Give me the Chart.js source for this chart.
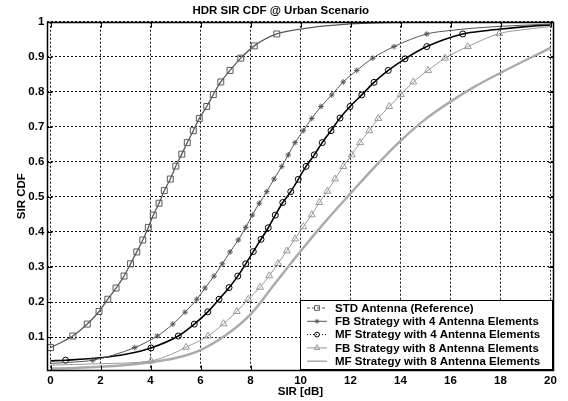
<!DOCTYPE html>
<html>
<head>
<meta charset="utf-8">
<script src="https://cdn.jsdelivr.net/npm/chart.js@4.4.1/dist/chart.umd.min.js"></script>
<style>
  html, body { margin: 0; padding: 0; background: #fff; }
</style>
</head>
<body>
<canvas id="sir-cdf" width="568" height="401"></canvas>
<script>
// SIR CDF curves, x in dB, y is the CDF value.
// "mark" points carry a marker, "line" points only shape the curve.
const stdMarkX = [0, 0.89, 1.47, 1.94, 2.29, 2.62, 2.94, 3.2, 3.45, 3.69, 3.91, 4.11, 4.34, 4.55, 4.79, 5.01, 5.25, 5.47, 5.71, 5.95, 6.25, 6.51, 6.81, 7.18, 7.61, 8.15, 9.05];
const stdMarkY = [0.07, 0.103, 0.137, 0.173, 0.208, 0.24, 0.274, 0.309, 0.343, 0.377, 0.413, 0.448, 0.482, 0.518, 0.551, 0.588, 0.622, 0.655, 0.689, 0.724, 0.758, 0.792, 0.828, 0.861, 0.896, 0.931, 0.965];
const stdLineX = [10, 11, 12, 13, 15, 20];
const stdLineY = [0.979, 0.988, 0.994, 0.997, 0.999, 1.0];

const fb4MarkX = [1.69, 3.37, 4.27, 4.89, 5.38, 5.85, 6.18, 6.54, 6.87, 7.18, 7.51, 7.81, 8.07, 8.35, 8.65, 8.94, 9.25, 9.51, 9.78, 10.11, 10.45, 10.82, 11.25, 11.71, 12.25, 12.89, 13.74, 15.05];
const fb4MarkY = [0.034, 0.07, 0.103, 0.137, 0.171, 0.208, 0.24, 0.274, 0.309, 0.343, 0.377, 0.413, 0.448, 0.482, 0.515, 0.551, 0.587, 0.62, 0.655, 0.689, 0.724, 0.758, 0.791, 0.828, 0.861, 0.896, 0.929, 0.965];
const fb4LineX = [0, 1, 16, 17, 18, 20];
const fb4LineY = [0.025, 0.029, 0.975, 0.982, 0.987, 0.993];

const mf4MarkX = [0.6, 4.02, 5.11, 5.75, 6.29, 6.74, 7.14, 7.49, 7.81, 8.11, 8.42, 8.71, 8.99, 9.29, 9.61, 9.91, 10.22, 10.55, 10.87, 11.22, 11.58, 11.98, 12.45, 12.94, 13.51, 14.18, 15.05, 16.49];
const mf4MarkY = [0.034, 0.069, 0.103, 0.137, 0.172, 0.208, 0.241, 0.274, 0.309, 0.344, 0.379, 0.412, 0.448, 0.484, 0.515, 0.55, 0.587, 0.62, 0.655, 0.689, 0.725, 0.758, 0.791, 0.827, 0.861, 0.894, 0.929, 0.965];
const mf4LineX = [0, 2, 3, 17.5, 18, 19, 20];
const mf4LineY = [0.032, 0.041, 0.051, 0.975, 0.979, 0.986, 0.991];

const fb8MarkX = [4.02, 5.42, 6.3, 6.92, 7.45, 7.91, 8.38, 8.75, 9.1, 9.45, 9.78, 10.11, 10.45, 10.75, 11.07, 11.38, 11.71, 12.05, 12.38, 12.75, 13.11, 13.55, 14.01, 14.51, 15.1, 15.78, 16.69, 17.95];
const fb8MarkY = [0.032, 0.071, 0.103, 0.138, 0.173, 0.208, 0.242, 0.275, 0.31, 0.346, 0.38, 0.415, 0.449, 0.484, 0.516, 0.551, 0.587, 0.62, 0.655, 0.689, 0.724, 0.758, 0.792, 0.828, 0.861, 0.896, 0.929, 0.966];
const fb8LineX = [0, 2, 4.8, 19, 20];
const fb8LineY = [0.02, 0.024, 0.05, 0.978, 0.986];

const mf8LineX = [0, 1, 2, 3, 4, 5, 6, 7, 8, 9, 10, 11, 12, 13, 14, 15, 16, 17, 18, 19, 20];
const mf8LineY = [0.01, 0.012, 0.015, 0.02, 0.028, 0.04, 0.063, 0.105, 0.165, 0.255, 0.345, 0.43, 0.51, 0.588, 0.66, 0.722, 0.772, 0.816, 0.854, 0.89, 0.925];

const seriesNames = [
  "STD Antenna (Reference)",
  "FB Strategy with 4 Antenna Elements",
  "MF Strategy with 4 Antenna Elements",
  "FB Strategy with 8 Antenna Elements",
  "MF Strategy with 8 Antenna Elements",
];

const xTicks = [0, 2, 4, 6, 8, 10, 12, 14, 16, 18, 20];
const yTicks = [0.1, 0.2, 0.3, 0.4, 0.5, 0.6, 0.7, 0.8, 0.9, 1];
const yTickLabels = ["0.1", "0.2", "0.3", "0.4", "0.5", "0.6", "0.7", "0.8", "0.9", "1"];

const FONT = "'Liberation Sans', Arial, sans-serif";

// merge marked + plain points, sorted by x; marked ones get a visible marker
function buildSeries(markX, markY, lineX, lineY, radius) {
  const pts = [];
  markX.forEach((x, i) => pts.push({ x: x, y: markY[i], r: radius }));
  lineX.forEach((x, i) => pts.push({ x: x, y: lineY[i], r: 0 }));
  pts.sort((a, b) => a.x - b.x);
  return {
    data: pts.map((p) => ({ x: p.x, y: p.y })),
    radius: pts.map((p) => p.r),
  };
}

const styles = [
  { color: "#5a5a5a", width: 1.3, pointStyle: "rect", radius: 4.2, dash: [3, 2] },
  { color: "#555555", width: 1, pointStyle: "star", radius: 2.8, dash: [] },
  { color: "#000000", width: 1.6, pointStyle: "circle", radius: 3, dash: [1, 2] },
  { color: "#9a9a9a", width: 1, pointStyle: "triangle", radius: 4, dash: [] },
  { color: "#ababab", width: 2.5, pointStyle: false, radius: 0, dash: [] },
];

const built = [
  buildSeries(stdMarkX, stdMarkY, stdLineX, stdLineY, styles[0].radius),
  buildSeries(fb4MarkX, fb4MarkY, fb4LineX, fb4LineY, styles[1].radius),
  buildSeries(mf4MarkX, mf4MarkY, mf4LineX, mf4LineY, styles[2].radius),
  buildSeries(fb8MarkX, fb8MarkY, fb8LineX, fb8LineY, styles[3].radius),
  buildSeries([], [], mf8LineX, mf8LineY, 0),
];

const datasets = built.map((s, i) => ({
  label: seriesNames[i],
  data: s.data,
  borderColor: styles[i].color,
  borderWidth: styles[i].width,
  pointStyle: styles[i].pointStyle || "circle",
  pointRadius: s.radius,
  pointBorderColor: styles[i].color,
  pointBorderWidth: 1,
  pointBackgroundColor: "rgba(0,0,0,0)",
  cubicInterpolationMode: "monotone",
  fill: false,
}));

// axes box with inward tick marks
const axesBox = {
  id: "axesBox",
  afterDatasetsDraw(chart) {
    const { ctx, chartArea: a, scales } = chart;
    const l = Math.round(a.left) + 0.5;
    const r = Math.round(a.right) - 0.5;
    const t = Math.round(a.top) + 0.5;
    const b = Math.round(a.bottom) - 0.5;
    ctx.save();
    ctx.strokeStyle = "#000";
    ctx.lineWidth = 1.5;
    ctx.strokeRect(l, t, r - l, b - t);
    ctx.lineWidth = 1;
    ctx.beginPath();
    xTicks.forEach((v) => {
      const px = Math.round(scales.x.getPixelForValue(v)) + 0.5;
      ctx.moveTo(px, b); ctx.lineTo(px, b - 5);
      ctx.moveTo(px, t); ctx.lineTo(px, t + 5);
    });
    yTicks.forEach((v) => {
      const py = Math.round(scales.y.getPixelForValue(v)) + 0.5;
      ctx.moveTo(l, py); ctx.lineTo(l + 5, py);
      ctx.moveTo(r, py); ctx.lineTo(r - 5, py);
    });
    ctx.stroke();
    ctx.restore();
  },
};

// boxed legend with line + marker samples
const boxLegend = {
  id: "boxLegend",
  afterDraw(chart) {
    const ctx = chart.ctx;
    const a = chart.chartArea;
    const x0 = 300.5, y0 = 300.5;
    const x1 = Math.round(a.right) - 0.5 - 1, y1 = 369.5;
    ctx.save();
    ctx.fillStyle = "#fff";
    ctx.fillRect(x0, y0, x1 - x0, y1 - y0);
    ctx.strokeStyle = "#000";
    ctx.lineWidth = 1;
    ctx.strokeRect(x0, y0, x1 - x0, y1 - y0);
    ctx.font = "bold 11.5px " + FONT;
    ctx.textBaseline = "middle";
    ctx.textAlign = "left";
    seriesNames.forEach((name, i) => {
      const st = styles[i];
      const y = 308 + i * 13.3;
      ctx.strokeStyle = st.color;
      ctx.lineWidth = i === 4 ? 1.5 : 1;
      ctx.setLineDash(st.dash);
      ctx.beginPath();
      ctx.moveTo(307, y);
      ctx.lineTo(327, y);
      ctx.stroke();
      ctx.setLineDash([]);
      if (st.pointStyle) {
        ctx.fillStyle = "rgba(0,0,0,0)";
        ctx.lineWidth = 1;
        Chart.helpers.drawPoint(ctx, {
          pointStyle: st.pointStyle,
          radius: st.radius * 0.8,
          borderWidth: 1,
          rotation: 0,
        }, 317, y);
      }
      ctx.fillStyle = "#000";
      ctx.fillText(name, 335, y + 0.5);
    });
    ctx.restore();
  },
};

const tickFont = { family: FONT, size: 11.5, weight: "bold" };

new Chart(document.getElementById("sir-cdf"), {
  type: "line",
  data: { datasets: datasets },
  options: {
    responsive: false,
    animation: false,
    events: [],
    layout: { padding: { left: 8, right: 14.5, top: 0, bottom: 0 } },
    plugins: {
      legend: { display: false },
      tooltip: { enabled: false },
      title: {
        display: true,
        text: "HDR SIR CDF @ Urban Scenario",
        color: "#000",
        font: { family: FONT, size: 11.5, weight: "bold", lineHeight: 1.2 },
        padding: { top: 3.8, bottom: 4.1 },
      },
    },
    scales: {
      x: {
        type: "linear",
        min: -0.13,
        max: 20.12,
        afterBuildTicks: (s) => { s.ticks = xTicks.map((v) => ({ value: v })); },
        afterFit: (s) => { s.height = 30.3; },
        ticks: {
          autoSkip: false,
          maxRotation: 0,
          padding: 3.5,
          color: "#000",
          font: tickFont,
          callback: (v) => String(v),
        },
        grid: { color: "#111", lineWidth: 1, drawTicks: false },
        border: { display: false, dash: [2, 2] },
        title: {
          display: true,
          text: "SIR [dB]",
          color: "#000",
          font: { family: FONT, size: 11.5, weight: "bold", lineHeight: 1.2 },
          padding: { top: 0, bottom: 2.4 },
        },
      },
      y: {
        type: "linear",
        min: 0.004,
        max: 1.0,
        afterBuildTicks: (s) => { s.ticks = yTicks.map((v) => ({ value: v })); },
        afterFit: (s) => { s.width = 39.3; },
        ticks: {
          padding: 3,
          color: "#000",
          font: tickFont,
          callback: (v, i) => yTickLabels[i],
        },
        grid: { color: "#111", lineWidth: 1, drawTicks: false },
        border: { display: false, dash: [2, 2] },
        title: {
          display: true,
          text: "SIR CDF",
          color: "#000",
          font: { family: FONT, size: 11.5, weight: "bold", lineHeight: 1.2 },
          padding: { top: 6.5, bottom: 0 },
        },
      },
    },
  },
  plugins: [axesBox, boxLegend],
});
</script>
</body>
</html>
